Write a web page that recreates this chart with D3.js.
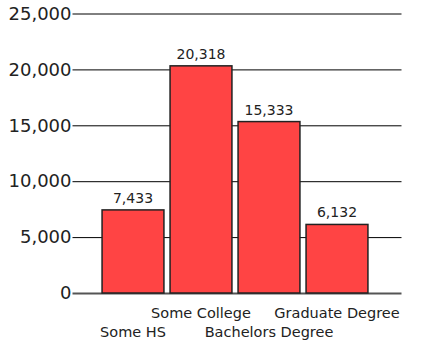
<!DOCTYPE html>
<html>
<head>
<meta charset="utf-8">
<script src="https://cdn.jsdelivr.net/npm/d3@7"></script>
<style>
  body { margin: 0; background: #fff; }
  text { font-family: "DejaVu Sans", sans-serif; fill: #222; }
</style>
</head>
<body>
<svg id="canvas" width="423" height="344"></svg>
<script>
let categories = ["Some HS", "Some College", "Bachelors Degree", "Graduate Degree"];
let counts = [7433, 20318, 15333, 6132];
let tickValues = [0, 5000, 10000, 15000, 20000, 25000];

let canvas = d3.select('#canvas');

let x = d3.scaleBand()
    .domain(categories)
    .range([99, 371])
    .paddingInner(0.09)
    .paddingOuter(0.045);

let y = d3.scaleLinear()
    .domain([0, 25000])
    .range([293, 13.5]);

let fmt = d3.format(',');

// gridlines + tick labels
let yAxis = d3.axisLeft(y)
    .tickValues(tickValues)
    .tickFormat(fmt)
    .tickSize(-329)
    .tickPadding(1);

let ga = canvas.append('g')
    .attr('transform', 'translate(72.5,0)')
    .call(yAxis);
ga.select('.domain').remove();
ga.selectAll('.tick line')
    .attr('stroke', (d) => d === 0 ? '#555' : '#000')
    .attr('stroke-width', (d) => d === 0 ? 2 : 1);
ga.selectAll('.tick text')
    .style('font-size', '18px')
    .attr('fill', '#222');

// bars
canvas.selectAll('rect.bar')
    .data(counts)
    .enter()
    .append('rect')
    .attr('class', 'bar')
    .attr('x', (d, i) => x(categories[i]))
    .attr('y', (d) => y(d))
    .attr('width', x.bandwidth())
    .attr('height', (d) => y(0) - y(d))
    .attr('fill', '#ff4444')
    .attr('stroke', '#222')
    .attr('stroke-width', 1.5);

// value labels
canvas.selectAll('text.val')
    .data(counts)
    .enter()
    .append('text')
    .attr('class', 'val')
    .attr('x', (d, i) => x(categories[i]) + x.bandwidth() / 2)
    .attr('y', (d) => y(d) - 7)
    .attr('text-anchor', 'middle')
    .style('font-size', '14px')
    .text((d) => fmt(d));

// category labels, staggered on two rows
canvas.selectAll('text.cat')
    .data(categories)
    .enter()
    .append('text')
    .attr('class', 'cat')
    .attr('x', (d) => x(d) + x.bandwidth() / 2)
    .attr('y', (d, i) => i % 2 === 0 ? 337 : 318)
    .attr('text-anchor', 'middle')
    .style('font-size', '14.5px')
    .text((d) => d);
</script>
</body>
</html>
